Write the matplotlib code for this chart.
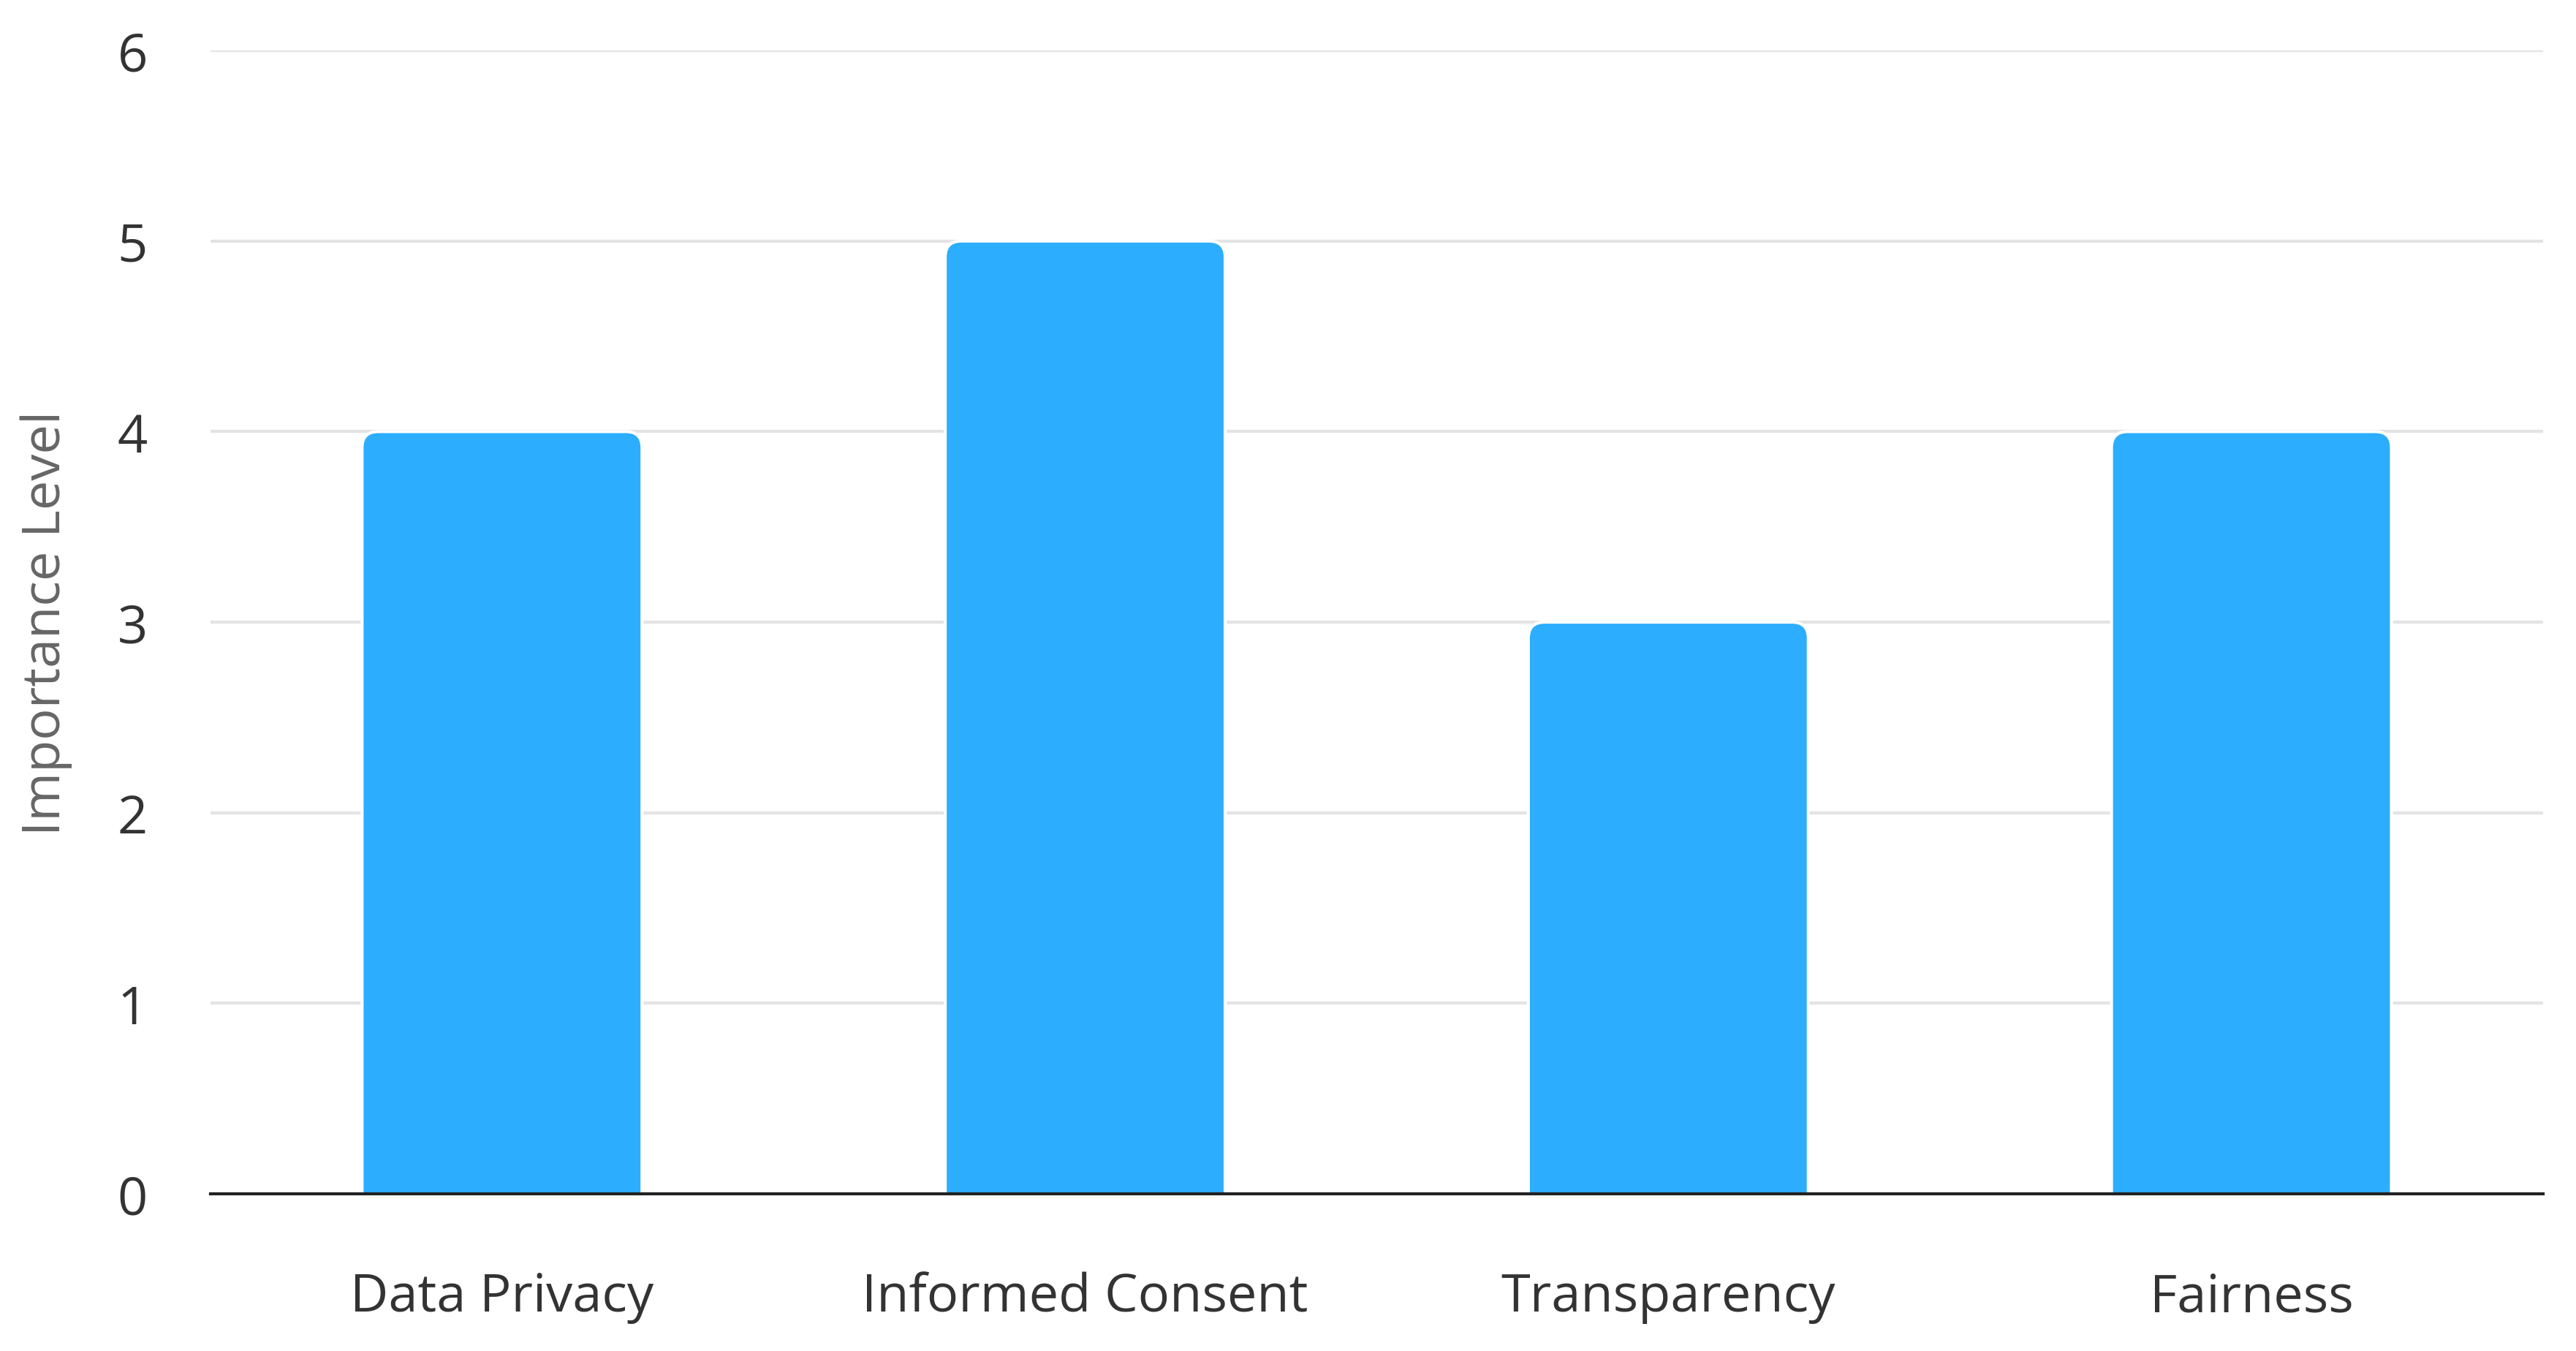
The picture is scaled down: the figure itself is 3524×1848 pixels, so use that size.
import numpy as np
import matplotlib
matplotlib.use("Agg")
from matplotlib import pyplot as plt
from matplotlib.patches import FancyBboxPatch

categories = ["Data Privacy", "Informed Consent", "Transparency", "Fairness"]
importance = [4, 5, 3, 4]
yticks = [0, 1, 2, 3, 4, 5, 6]

plt.rcParams['font.family'] = ['Open Sans', 'DejaVu Sans']

fig = plt.figure(figsize=(35.24, 18.49), dpi=100)
ax = fig.add_axes([0.0817, 0.1163, 0.9055, 0.8458])

x = np.arange(len(categories))
bars = ax.bar(x, importance, width=0.48, color='#2CADFE', zorder=3)

# swap plain bars for ones with rounded tops
for b in bars:
    bx, bw, bh = b.get_x(), b.get_width(), b.get_height()
    b.set_visible(False)
    p = FancyBboxPatch((bx, -0.3), bw, bh + 0.3,
                       boxstyle="round,pad=0,rounding_size=0.028",
                       mutation_aspect=3.0, facecolor='#2CADFE',
                       edgecolor='white', linewidth=3, zorder=3)
    ax.add_patch(p)

ax.set_xlim(-0.5, 3.5)
ax.set_ylim(0, 6)
ax.set_yticks(yticks)
ax.set_xticks(x)
ax.set_xticklabels(categories)
ax.yaxis.grid(True, color='#e3e3e3', linewidth=3, zorder=0)
ax.set_axisbelow(True)

for s in ['top', 'right', 'left']:
    ax.spines[s].set_visible(False)
ax.spines['bottom'].set_color('#222222')
ax.spines['bottom'].set_linewidth(3)
ax.spines['bottom'].set_zorder(4)

ax.tick_params(axis='y', length=0, pad=62, labelsize=52, labelcolor='#333333')
ax.tick_params(axis='x', length=0, pad=76, labelsize=52, labelcolor='#333333')
ax.set_ylabel('Importance Level', fontsize=52, color='#666666', labelpad=44)

fig.savefig('out.png', dpi=100, facecolor='white')
